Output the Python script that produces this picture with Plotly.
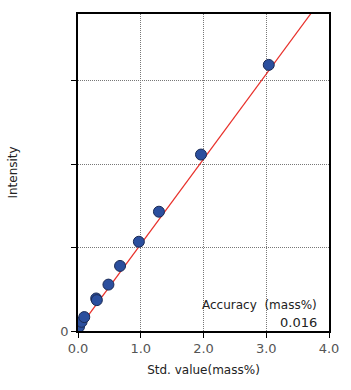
import plotly.graph_objects as go

std_value = [0.016, 0.057, 0.10, 0.29, 0.30, 0.485, 0.67, 0.97, 1.29, 1.96, 3.04]
intensity = [0.05, 0.11, 0.167, 0.39, 0.37, 0.556, 0.78, 1.07, 1.43, 2.115, 3.19]

fit_x = [0.0, 4.0]
fit_y = [0.02, 4.10]

x_ticks = [0, 1, 2, 3, 4]
x_labels = ["0.0", "1.0", "2.0", "3.0", "4.0"]
y_ticks = [0, 1, 2, 3]
y_labels = ["0", "", "", ""]

accuracy_label = "Accuracy  (mass%)"
accuracy_value = "0.016"

fnt = "DejaVu Sans"

fig = go.Figure()
fig.add_trace(go.Scatter(x=fit_x, y=fit_y, mode="lines",
                         line=dict(color="#e8302a", width=1.2), hoverinfo="skip"))
fig.add_trace(go.Scatter(x=std_value, y=intensity, mode="markers",
                         marker=dict(size=11, color="#2b4f9e",
                                     line=dict(color="#1a2a55", width=1))))

grid = dict(showgrid=True, gridcolor="#777777", griddash="1px,1px", gridwidth=1)

fig.update_layout(
    width=351, height=390,
    margin=dict(l=73, r=20, t=12, b=59),
    plot_bgcolor="white", paper_bgcolor="white",
    showlegend=False,
    font=dict(family=fnt, color="#333333"),
    xaxis=dict(range=[0, 4], tickvals=x_ticks, ticktext=x_labels, **grid,
               showline=True, linecolor="black", linewidth=1.5, mirror=True,
               ticks="outside", ticklen=5, tickcolor="black",
               tickfont=dict(size=13, color="#555555"),
               title=dict(text="Std. value(mass%)", font=dict(size=12, color="#222222"), standoff=10),
               zeroline=False),
    yaxis=dict(range=[0, 3.8], tickvals=y_ticks, ticktext=y_labels, **grid,
               showline=True, linecolor="black", linewidth=1.5, mirror=True,
               ticks="outside", ticklen=5, tickcolor="black",
               tickfont=dict(size=13, color="#555555"),
               title=dict(text="Intensity", font=dict(size=12, color="#222222"), standoff=40),
               zeroline=False),
)

fig.add_annotation(x=0.962, y=0.0815, xref="paper", yref="paper", xanchor="right", yanchor="middle",
                   text=accuracy_label, showarrow=False, font=dict(size=12, color="#222222"))
fig.add_annotation(x=0.962, y=0.028, xref="paper", yref="paper", xanchor="right", yanchor="middle",
                   text=accuracy_value, showarrow=False, font=dict(size=13, color="#222222"))

fig.write_html("out.html")
